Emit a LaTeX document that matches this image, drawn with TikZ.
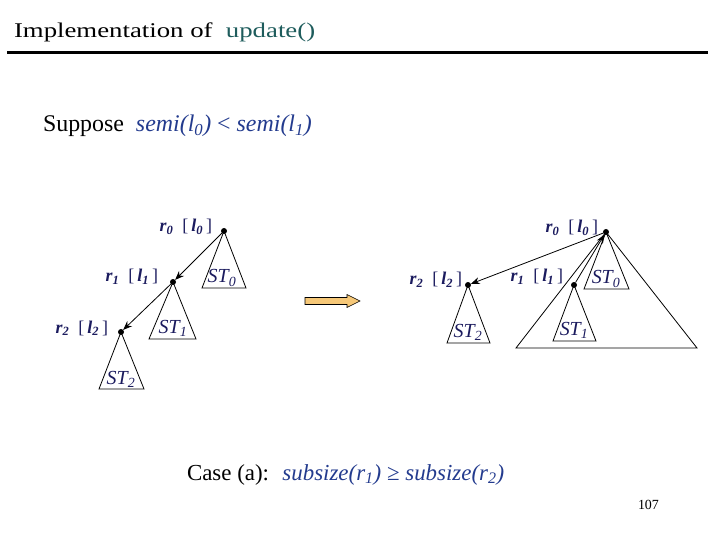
\documentclass[tikz,border=0pt]{standalone}
\usepackage{fontspec}
\usepackage{graphicx}
\setmainfont{Liberation Serif}
\usetikzlibrary{arrows.meta,positioning}
\definecolor{titleteal}{RGB}{30,92,92}
\definecolor{mathblue}{RGB}{35,59,142}
\definecolor{labelnavy}{RGB}{27,27,94}
\definecolor{arroworange}{RGB}{246,200,120}
\newcommand{\rootlbl}[1]{\textbf{\textit{r\textsubscript{#1}}}\ \ [\,\textbf{\textit{l\textsubscript{#1}}}\,]}
\newcommand{\stlbl}[1]{ST\textsubscript{#1}}

\begin{document}
\begin{tikzpicture}[
    x=1bp, y=-1bp,
    every node/.style={inner sep=0pt, outer sep=0pt},
    treedot/.style={circle, fill=black, minimum size=6bp},
    subtree/.style={draw, line width=0.8bp, line join=miter},
    link/.style={line width=0.8bp, -{Stealth[length=9bp,width=7bp]}},
    rootlabel/.style={anchor=base east, text=labelnavy, font=\fontsize{18}{20}\selectfont},
    stlabel/.style={anchor=base, text=labelnavy, font=\fontsize{20}{22}\selectfont\itshape},
    plaintext/.style={anchor=base west, font=\fontsize{23}{27}\selectfont}
]
\useasboundingbox (0,0) rectangle (720,540);

% Heading
\node[anchor=base west, font=\fontsize{21}{24}\selectfont] (heading) at (14,38)
  {\scalebox{1.28}[1]{Implementation of \ \textcolor{titleteal}{update()}}};
\draw[line width=3bp] (7,53) -- (708,53);

\node[plaintext, font=\fontsize{24}{28}\selectfont] (suppose) at (43,132)
  {Suppose \ \textcolor{mathblue}{\textit{semi(l\textsubscript{0})} < \textit{semi(l\textsubscript{1})}}};

% Before: left tree
\node[treedot] (left_r0) at (224,231) {};
\node[treedot] (left_r1) at (173,282) {};
\node[treedot] (left_r2) at (121,332) {};

\draw[subtree] (left_r0.center) -- (202,288) -- (246,288) -- cycle;
\draw[subtree] (left_r1.center) -- (149,339) -- (196,339) -- cycle;
\draw[subtree] (left_r2.center) -- (99,389) -- (144,389) -- cycle;

\node[rootlabel] (left_lbl0) at (212,232) {\rootlbl{0}};
\node[rootlabel] (left_lbl1) at (158,282) {\rootlbl{1}};
\node[rootlabel] (left_lbl2) at (108,333) {\rootlbl{2}};

\node[stlabel] (left_st0) at (222,283) {\stlbl{0}};
\node[stlabel] (left_st1) at (173,333) {\stlbl{1}};
\node[stlabel] (left_st2) at (121,384) {\stlbl{2}};

\draw[link] (left_r0) -- (left_r1);
\draw[link] (left_r1) -- (left_r2);

% Transition arrow
\draw[fill=arroworange, line width=0.6bp]
  (305,297.5) -- (347,297.5) -- (347,294.5) -- (360,301) -- (347,307.5) -- (347,304.5) -- (305,304.5) -- cycle;

% After: right tree
\node[treedot] (right_r0) at (606,232) {};
\node[treedot] (right_r2) at (468,285) {};
\node[treedot] (right_r1) at (574,285) {};

\draw[subtree] (right_r0.center) -- (516,348) -- (697,348) -- cycle;
\draw[subtree] (right_r0.center) -- (584,289) -- (629,289) -- cycle;
\draw[subtree] (right_r2.center) -- (447,343) -- (490,343) -- cycle;
\draw[subtree] (right_r1.center) -- (553,341) -- (596,341) -- cycle;

\node[rootlabel] (right_lbl0) at (598,233) {\rootlbl{0}};
\node[rootlabel] (right_lbl2) at (462,285) {\rootlbl{2}};
\node[rootlabel] (right_lbl1) at (563,282) {\rootlbl{1}};

\node[stlabel] (right_st0) at (606,284) {\stlbl{0}};
\node[stlabel] (right_st2) at (468,337) {\stlbl{2}};
\node[stlabel] (right_st1) at (574,335) {\stlbl{1}};

\draw[link] (right_r0) -- (right_r2);
\draw[link] (right_r1) -- (right_r0);

\node[plaintext] (case_a) at (187,480)
  {Case (a): \ \textcolor{mathblue}{\textit{subsize(r\textsubscript{1})} ≥ \textit{subsize(r\textsubscript{2})}}};

\node[anchor=base west, font=\fontsize{14}{16}\selectfont] (pagenum) at (638,509) {107};
\end{tikzpicture}
\end{document}
